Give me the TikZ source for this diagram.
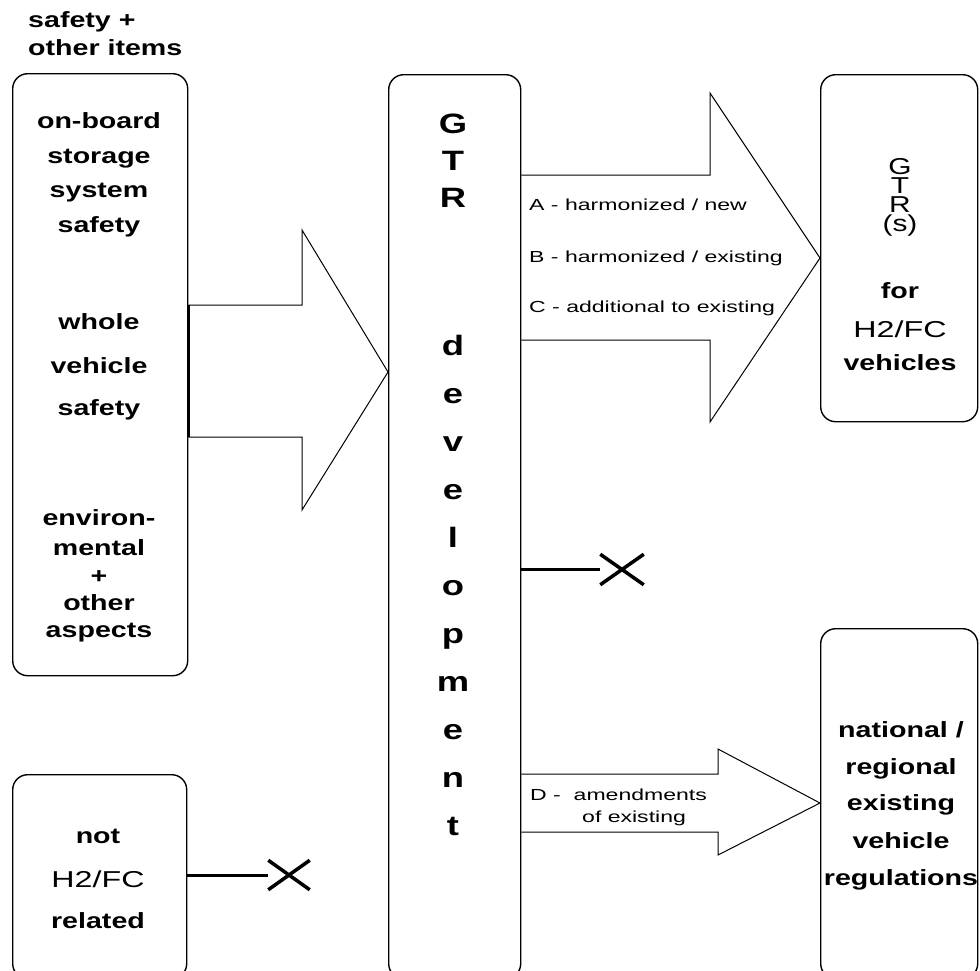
\documentclass[tikz,border=0pt]{standalone}
\usepackage{fontspec}
\usetikzlibrary{shapes.misc}
\newfontfamily\bigfont[FakeStretch=1.3]{Liberation Sans}
\newfontfamily\wideFont[FakeStretch=1.4]{Liberation Sans}
\newfontfamily\smallfont[FakeStretch=1.44]{Liberation Sans}
\begin{document}
\begin{tikzpicture}[x=1pt,y=-1pt,
  boxst/.style={draw, line width=1.4pt, rounded corners=15pt, inner sep=0pt, anchor=north west},
  arrowst/.style={draw, line width=1pt, line join=miter},
  bt/.style={font=\bigfont\bfseries\fontsize{22}{22}\selectfont, inner sep=0pt, anchor=base},
  rt/.style={font=\wideFont\fontsize{23}{23}\selectfont, inner sep=0pt, anchor=base},
  mt/.style={font=\bigfont\bfseries\fontsize{28}{28}\selectfont, inner sep=0pt, anchor=base},
  st/.style={font=\smallfont\fontsize{16}{16}\selectfont, inner sep=0pt, anchor=base west},
  xline/.style={line width=3pt},
  xmark/.style={cross out, draw, line width=3.5pt, inner sep=0pt},
]
\useasboundingbox (0,0) rectangle (980,970);
\clip (0,0) rectangle (980,970);
\fill[white] (0,0) rectangle (980,970);

% boxes
\node[boxst, minimum width=175pt, minimum height=602pt] (L1) at (12,73) {};
\node[boxst, minimum width=174pt, minimum height=204pt] (L2) at (12,774) {};
\node[boxst, minimum width=132pt, minimum height=904pt] (M) at (388,74) {};
\node[boxst, minimum width=157pt, minimum height=347pt] (R1) at (820,74) {};
\node[boxst, minimum width=157pt, minimum height=350pt] (R2) at (820,628) {};

% title
\node[bt, anchor=base west] (t1) at (28,27) {safety +};
\node[bt, anchor=base west] (t2) at (28,55) {other items};

% left box 1 text
\node[bt] (l1) at (99,128) {on-board};
\node[bt] (l2) at (99,163) {storage};
\node[bt] (l3) at (99,197) {system};
\node[bt] (l4) at (99,232) {safety};
\node[bt] (l5) at (99,329) {whole};
\node[bt] (l6) at (99,373) {vehicle};
\node[bt] (l7) at (99,415) {safety};
\node[bt] (l8) at (99,525) {environ-};
\node[bt] (l9) at (99,555) {mental};
\node[bt] (l10) at (99,583) {+};
\node[bt] (l11) at (99,610) {other};
\node[bt] (l12) at (99,637) {aspects};

% left box 2 text
\node[bt] (n1) at (98,843) {not};
\node[rt] (n2) at (98,887) {H2/FC};
\node[bt] (n3) at (98,928) {related};

% middle text
\node[mt] (mG) at (453,133) {G};
\node[mt] (mT) at (453,170) {T};
\node[mt] (mR) at (453,207) {R};
\foreach \ch [count=\i] in {d,e,v,e,l,o,p,m,e,n,t}
  \node[mt] (dev\i) at (453,{355+48*(\i-1)}) {\ch};

% right box 1 text
\node[rt, align=center, font=\bigfont\fontsize{23}{19}\selectfont, anchor=base] (r1) at (900,231) {G\\T\\R\\(s)};
\node[bt] (r5) at (900,298) {for};
\node[rt] (r6) at (900,337) {H2/FC};
\node[bt] (r7) at (900,370) {vehicles};

% right box 2 text
\node[bt] (q1) at (901,737) {national /};
\node[bt] (q2) at (901,774) {regional};
\node[bt] (q3) at (901,810) {existing};
\node[bt] (q4) at (901,848) {vehicle};
\node[bt] (q5) at (901,885) {regulations};

% left block arrow
\draw[arrowst] (L1.east |- 0,305) -- (302,305) -- (302,230) -- (M.west |- 0,372)
  -- (302,510) -- (302,437) -- (L1.east |- 0,437);
\draw[line width=2.6pt] (L1.east |- 0,305) -- (L1.east |- 0,437);

% ABC block arrow
\draw[arrowst] (M.east |- 0,175) -- (710,175) -- (710,93) -- (R1.west |- 0,258)
  -- (710,422) -- (710,340) -- (M.east |- 0,340);
\node[st] (ta) at (529,210) {A - harmonized / new};
\node[st] (tb) at (529,262) {B - harmonized / existing};
\node[st] (tc) at (529,312) {C - additional to existing};

% D block arrow
\draw[arrowst] (M.east |- 0,774) -- (718,774) -- (718,749) -- (R2.west |- 0,803)
  -- (718,855) -- (718,832) -- (M.east |- 0,832);
\node[st] (td1) at (530,800) {D -\ \ amendments};
\node[st] (td2) at (582,822) {of existing};

% crossed-out connectors
\node[xmark, minimum width=40pt, minimum height=27pt] (X1) at (622,569.5) {};
\draw[xline] (M.east |- X1) -- (X1.west);
\node[xmark, minimum width=38pt, minimum height=26pt] (X2) at (289,875) {};
\draw[xline] (L2.east |- X2) -- (X2.west);
\end{tikzpicture}
\end{document}
